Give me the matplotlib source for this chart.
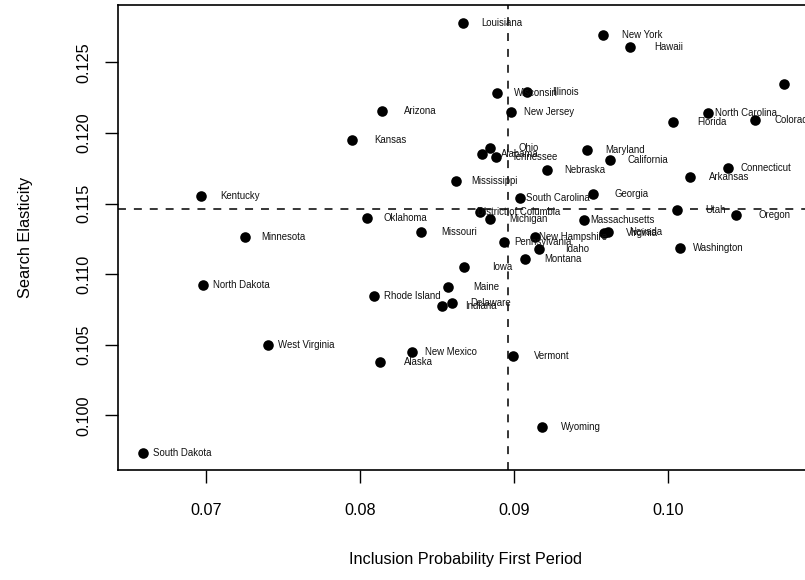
import matplotlib
matplotlib.use("Agg")
import matplotlib.pyplot as plt

plt.rcParams['font.family'] = ['Liberation Sans', 'DejaVu Sans']

states = ["Arizona", "Kansas", "Kentucky", "Oklahoma", "Minnesota", "Louisiana",
          "New York", "Hawaii", "Texas", "Wisconsin", "Illinois", "New Jersey",
          "North Carolina", "Florida", "Colorado", "Ohio", "Alabama", "Tennessee",
          "Maryland", "California", "Nebraska", "Connecticut", "Arkansas",
          "Mississippi", "South Carolina", "Georgia", "District of Columbia", "Utah",
          "Oregon", "Michigan", "Massachusetts", "Missouri", "New Hampshire",
          "Pennsylvania", "Virginia", "Nevada", "Idaho", "Montana", "Washington",
          "Iowa", "Maine", "Rhode Island", "Delaware", "Indiana", "New Mexico",
          "Alaska", "Vermont", "Wyoming", "North Dakota", "West Virginia",
          "South Dakota"]

inclusion_prob = [0.08143, 0.07950, 0.06971, 0.08045, 0.07253, 0.08673,
                  0.09582, 0.09755, 0.10757, 0.08892, 0.09084, 0.08982,
                  0.10260, 0.10036, 0.10569, 0.08846, 0.08792, 0.08887,
                  0.09476, 0.09623, 0.09214, 0.10390, 0.10147,
                  0.08627, 0.09039, 0.09513, 0.08781, 0.10060,
                  0.10442, 0.08848, 0.09458, 0.08398, 0.09136,
                  0.08939, 0.09586, 0.09610, 0.09164, 0.09071, 0.10080,
                  0.08675, 0.08571, 0.08093, 0.08597, 0.08534, 0.08342,
                  0.08132, 0.08994, 0.09186, 0.06982, 0.07406,
                  0.06595]

search_elasticity = [0.12155, 0.11950, 0.11553, 0.11400, 0.11261, 0.12780,
                     0.12691, 0.12610, 0.12346, 0.12280, 0.12289, 0.12148,
                     0.12143, 0.12079, 0.12091, 0.11895, 0.11853, 0.11827,
                     0.11877, 0.11806, 0.11735, 0.11754, 0.11686,
                     0.11662, 0.11537, 0.11565, 0.11438, 0.11456,
                     0.11419, 0.11391, 0.11381, 0.11301, 0.11263,
                     0.11230, 0.11292, 0.11301, 0.11176, 0.11105, 0.11183,
                     0.11053, 0.10912, 0.10848, 0.10794, 0.10775, 0.10452,
                     0.10381, 0.10423, 0.09919, 0.10921, 0.10497,
                     0.09737]

mean_inclusion = 0.08965
mean_elasticity = 0.11461

x_ticks = [0.07, 0.08, 0.09, 0.10]
x_tick_labels = ["0.07", "0.08", "0.09", "0.10"]
y_ticks = [0.100, 0.105, 0.110, 0.115, 0.120, 0.125]
y_tick_labels = ["0.100", "0.105", "0.110", "0.115", "0.120", "0.125"]

fig = plt.figure(figsize=(8.05, 5.8), dpi=100)
ax = fig.add_axes([118/805, 110/580, (812-118)/805, 465/580])

ax.scatter(inclusion_prob, search_elasticity, s=58, color="black", zorder=3,
           linewidths=0)
label_dx = 0.0025
for name, xv, yv in zip(states, inclusion_prob, search_elasticity):
    ax.text(xv + label_dx, yv, name, ha="center", va="center", fontsize=6.9,
            color="#111111", zorder=4)

ax.axhline(mean_elasticity, color="black", lw=1.1, linestyle=(0, (5.2, 5.2)), zorder=2)
ax.axvline(mean_inclusion, color="black", lw=1.1, linestyle=(0, (5.2, 5.2)), zorder=2)

ax.set_xlim(0.064305, 0.10937)
ax.set_ylim(0.096143, 0.12905)

ax.set_xticks(x_ticks)
ax.set_xticklabels(x_tick_labels)
ax.set_yticks(y_ticks)
ax.set_yticklabels(y_tick_labels)
for lbl in ax.get_yticklabels():
    lbl.set_rotation(90)
    lbl.set_va("center")

ax.tick_params(axis="both", direction="out", length=9.7, width=1.0,
               labelsize=11.7, colors="black")
ax.tick_params(axis="x", pad=14)
ax.tick_params(axis="y", pad=9.5)

for sp in ax.spines.values():
    sp.set_linewidth(1.2)
    sp.set_color("black")

ax.set_xlabel("Inclusion Probability First Period", fontsize=11.7, labelpad=24.5)
ax.set_ylabel("Search Elasticity", fontsize=11.7, labelpad=31)

fig.savefig("out.png", dpi=100)
